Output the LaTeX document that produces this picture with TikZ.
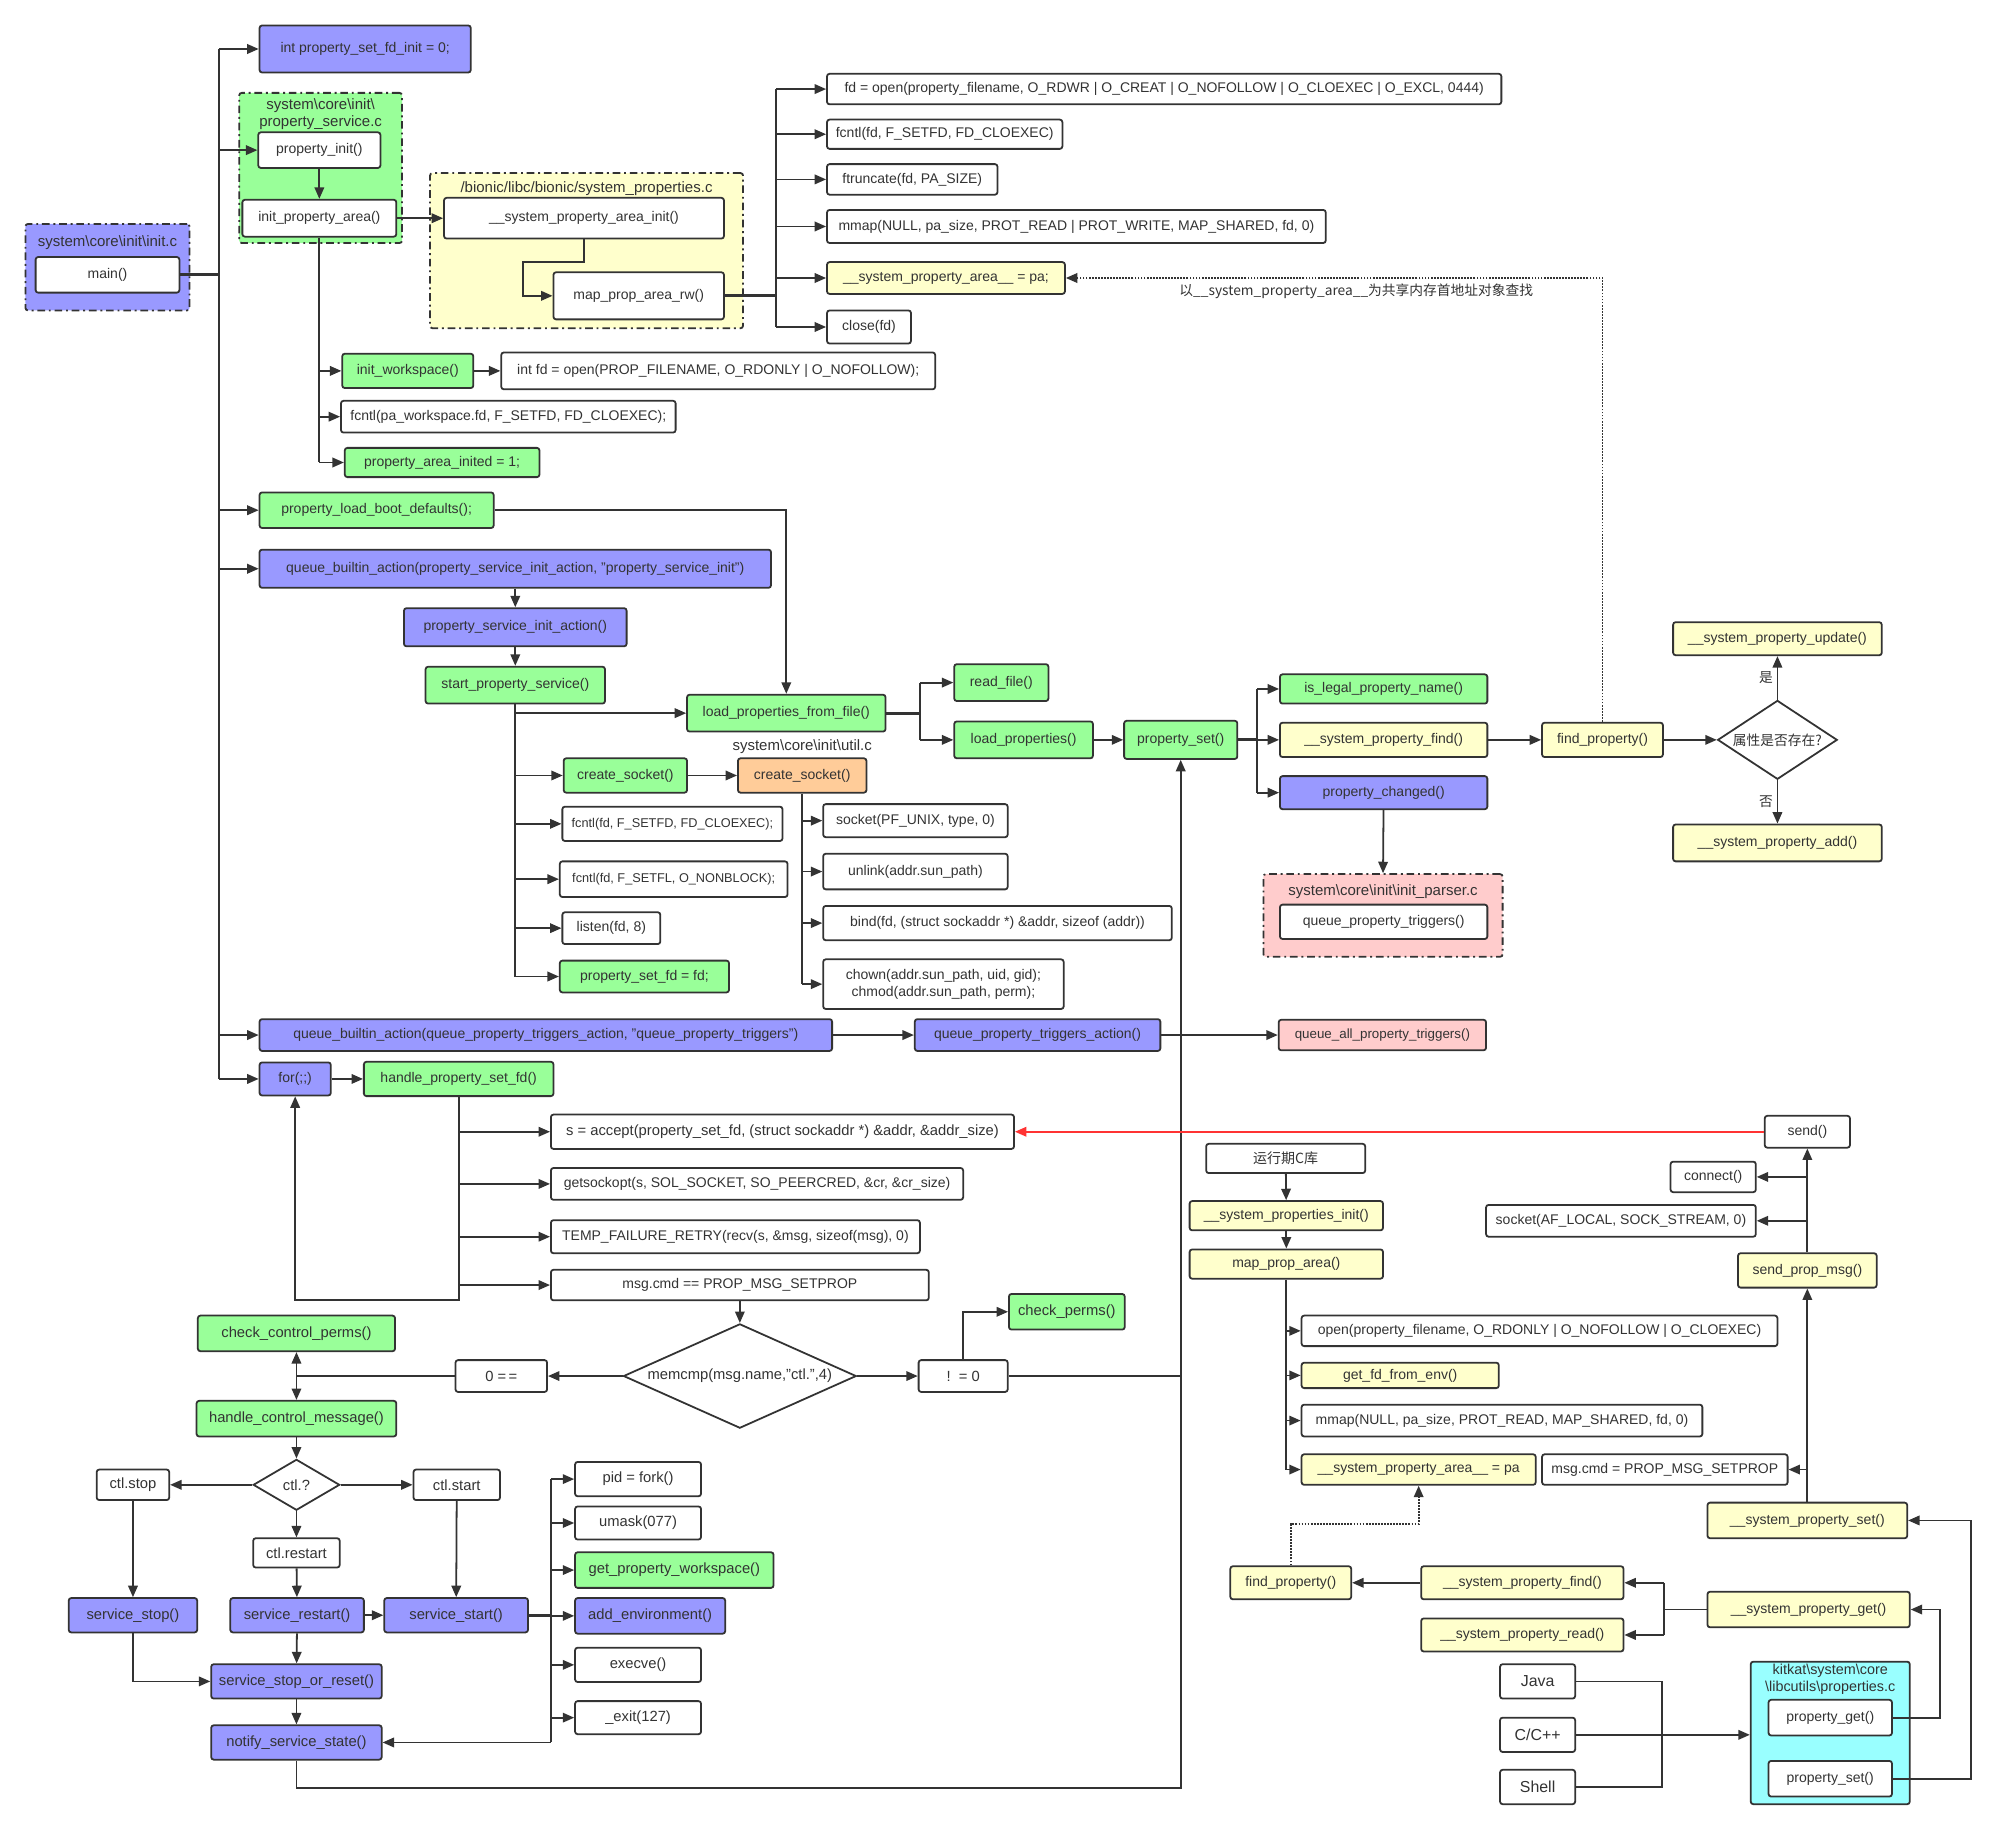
\documentclass[tikz,border=0pt]{standalone}
\usepackage{fontspec}
\setmainfont{Liberation Sans}
\newfontfamily\cjk{Noto Sans CJK SC}
\usetikzlibrary{arrows.meta,shapes.geometric}
\definecolor{crta}{HTML}{333333}
\definecolor{modra}{HTML}{9999FF}
\definecolor{zelena}{HTML}{99FF99}
\definecolor{rumena}{HTML}{FFFFCC}
\definecolor{oranzna}{HTML}{FFCC99}
\definecolor{rozna}{HTML}{FFCCCC}
\definecolor{cian}{HTML}{99FFFF}
\definecolor{rdeca}{HTML}{FF3333}
\tikzset{
	shema/.style={x=1pt, y=-1pt, color=crta, line width=1.4pt,
	              font=\fontsize{11}{13}\selectfont, >={Triangle[length=9pt,width=7.5pt]}},
	klic/.style={draw, rounded corners=2pt, fill=white, align=center, inner sep=2pt, minimum height=26pt},
	modri/.style={klic, fill=modra},
	zeleni/.style={klic, fill=zelena},
	rumeni/.style={klic, fill=rumena},
	oranzni/.style={klic, fill=oranzna},
	rozni/.style={klic, fill=rozna},
	veliki/.style={font=\fontsize{11.6}{14}\selectfont},
	drobni/.style={font=\fontsize{10}{12}\selectfont},
	odlocitev/.style={draw, diamond, fill=white, inner sep=0pt, align=center},
	skupina/.style={draw, dash pattern=on 6pt off 3pt on 1.5pt off 3pt, rounded corners=2pt,
	                line width=1.4pt, inner sep=0pt},
	naslov/.style={inner sep=1pt, align=center, font=\fontsize{11.8}{13}\selectfont},
	tok/.style={->},
	debelo/.style={line width=2.4pt},
	pik/.style={->, densely dotted},
	opomba/.style={font=\cjk\fontsize{10.8}{12}\selectfont, inner sep=1pt},
}

\begin{document}
\begin{tikzpicture}[shema]
\useasboundingbox (0,0) rectangle (1568,1438);

% skupine (ozadje)
\node[skupina, fill=zelena, minimum width=128pt, minimum height=118pt] (grupa1) at (252,132) {};
\node[skupina, fill=modra, minimum width=129pt, minimum height=68pt] (grupa2) at (84.5,210) {};
\node[skupina, fill=rumena, minimum width=246pt, minimum height=122pt] (grupa3) at (461,197) {};
\node[skupina, fill=rozna, minimum width=188pt, minimum height=65pt] (grupa4) at (1087,719.5) {};
\node[skupina, solid, fill=cian, minimum width=125pt, minimum height=112pt] (grupa5) at (1438.5,1362) {};

\node[naslov] at (252,89.5) {system\textbackslash core\textbackslash init\textbackslash\\property\_service.c};
\node[naslov] at (84.5,191) {system\textbackslash core\textbackslash init\textbackslash init.c};
\node[naslov] at (461,148) {/bionic/libc/bionic/system\_properties.c};
\node[naslov] at (1087,701) {system\textbackslash core\textbackslash init\textbackslash init\_parser.c};
\node[naslov, font=\fontsize{11.3}{13}\selectfont] at (1438.5,1320)
    {kitkat\textbackslash system\textbackslash core\\\textbackslash libcutils\textbackslash properties.c};

% init
\node[modri, minimum width=166pt, minimum height=37pt] (initfd) at (287,38.5)
    {int property\_set\_fd\_init = 0;};
\node[klic, minimum width=96pt, minimum height=28pt] (propinit) at (251,118)
    {property\_init()};
\node[klic, minimum width=121pt, minimum height=29pt] (initarea) at (251,171.5)
    {init\_property\_area()};
\node[klic, minimum width=113pt, minimum height=28pt] (mainfn) at (84.5,216)
    {main()};
\node[klic, minimum width=220pt, minimum height=32pt] (areainit) at (459,171.5)
    {\_\_system\_property\_area\_init()};
\node[klic, minimum width=134pt, minimum height=37pt] (maprw) at (502,232.5)
    {map\_prop\_area\_rw()};

\node[klic, minimum width=530pt, minimum height=24pt] (fdopen) at (915,70)
    {fd = open(property\_filename, O\_RDWR | O\_CREAT | O\_NOFOLLOW | O\_CLOEXEC | O\_EXCL, 0444)};
\node[klic, minimum width=185pt, minimum height=23pt] (fcntlfd) at (742.5,105.5)
    {fcntl(fd, F\_SETFD, FD\_CLOEXEC)};
\node[klic, minimum width=134pt, minimum height=24pt] (ftrunc) at (717,141)
    {ftruncate(fd, PA\_SIZE)};
\node[klic, minimum width=392pt] (mmap1) at (846,178)
    {mmap(NULL, pa\_size, PROT\_READ | PROT\_WRITE, MAP\_SHARED, fd, 0)};
\node[rumeni, minimum width=187pt, minimum height=25pt] (spa1) at (743.5,218.5)
    {\_\_system\_property\_area\_\_ = pa;};
\node[klic, minimum width=66pt] (closefd) at (683,257)
    {close(fd)};

\node[zeleni, minimum width=103pt, minimum height=27pt] (workspace) at (320.5,291.5)
    {init\_workspace()};
\node[klic, minimum width=341pt, minimum height=29pt] (wsopen) at (564.5,291.5)
    {int fd = open(PROP\_FILENAME, O\_RDONLY | O\_NOFOLLOW);};
\node[klic, minimum width=263pt, minimum height=25pt] (wsfcntl) at (399.5,327.5)
    {fcntl(pa\_workspace.fd, F\_SETFD, FD\_CLOEXEC);};
\node[zeleni, minimum width=153pt, minimum height=23pt] (inited) at (347.5,363.5)
    {property\_area\_inited = 1;};

% property service
\node[zeleni, minimum width=184pt, minimum height=28pt] (bootdef) at (296,401)
    {property\_load\_boot\_defaults();};
\node[modri, minimum width=402pt, minimum height=30pt] (qba1) at (405,447)
    {queue\_builtin\_action(property\_service\_init\_action, "property\_service\_init")};
\node[modri, minimum width=175pt, minimum height=30pt] (psia) at (405,493)
    {property\_service\_init\_action()};
\node[zeleni, minimum width=141pt, minimum height=29pt] (sps) at (405,538.5)
    {start\_property\_service()};
\node[zeleni, minimum width=156pt, minimum height=29pt] (lpff) at (618,560.5)
    {load\_properties\_from\_file()};
\node[zeleni, minimum width=74pt, minimum height=29pt] (readfile) at (787,536.5)
    {read\_file()};
\node[zeleni, minimum width=109pt, minimum height=29pt] (loadprops) at (804.5,581.5)
    {load\_properties()};
\node[zeleni, minimum width=97pt, minimum height=27pt] (cs1) at (491.5,609.5)
    {create\_socket()};
\node[oranzni, minimum width=101pt, minimum height=27pt] (cs2) at (630.5,609.5)
    {create\_socket()};
\node[naslov] (utilc) at (630.5,587) {system\textbackslash core\textbackslash init\textbackslash util.c};
\node[klic, drobni, minimum width=173pt, minimum height=27pt] (fcntl1) at (528.5,647.5)
    {fcntl(fd, F\_SETFD, FD\_CLOEXEC);};
\node[klic, drobni, minimum width=179pt, minimum height=28pt] (fcntl2) at (529.5,691)
    {fcntl(fd, F\_SETFL, O\_NONBLOCK);};
\node[klic, minimum width=77pt, minimum height=25pt] (listen) at (480.5,729.5)
    {listen(fd, 8)};
\node[zeleni, minimum width=133pt, minimum height=25pt] (setfd) at (506.5,767.5)
    {property\_set\_fd = fd;};
\node[klic, minimum width=145pt] (sock) at (719.5,645)
    {socket(PF\_UNIX, type, 0)};
\node[klic, minimum width=145pt, minimum height=28pt] (unlink) at (719.5,685)
    {unlink(addr.sun\_path)};
\node[klic, minimum width=274pt, minimum height=27pt] (bind) at (784,725.5)
    {bind(fd, (struct sockaddr *) \&addr, sizeof (addr))};
\node[klic, minimum width=189pt, minimum height=39pt] (chmod) at (741.5,773.5)
    {chown(addr.sun\_path, uid, gid);\\chmod(addr.sun\_path, perm);};

% property_set
\node[zeleni, minimum width=89pt, minimum height=30pt] (propset) at (928,581.5)
    {property\_set()};
\node[zeleni, minimum width=163pt, minimum height=23pt] (legal) at (1087.5,541.5)
    {is\_legal\_property\_name()};
\node[rumeni, minimum width=163pt, minimum height=27pt] (spfind1) at (1087.5,581.5)
    {\_\_system\_property\_find()};
\node[modri, minimum width=163pt] (changed) at (1087.5,623)
    {property\_changed()};
\node[rumeni, minimum width=95pt, minimum height=27pt] (findprop) at (1259.5,581.5)
    {find\_property()};
\node[odlocitev, aspect=1.5, minimum width=94pt, minimum height=62pt] (obstaja) at (1397,581.5)
    {\cjk\fontsize{10.8}{12}\selectfont 属性是否存在?};
\node[rumeni, minimum width=164pt] (update) at (1397,502)
    {\_\_system\_property\_update()};
\node[rumeni, minimum width=164pt, minimum height=29pt] (addp) at (1397,662.5)
    {\_\_system\_property\_add()};
\node[klic, minimum width=163pt, minimum height=27pt] (triggers) at (1087.5,724.5)
    {queue\_property\_triggers()};

\node[modri, minimum width=450pt, minimum height=25pt] (qba2) at (429,813.5)
    {queue\_builtin\_action(queue\_property\_triggers\_action, "queue\_property\_triggers")};
\node[modri, minimum width=193pt, minimum height=25pt] (qpta) at (815.5,813.5)
    {queue\_property\_triggers\_action()};
\node[rozni, minimum width=163pt, minimum height=24pt, font=\fontsize{10.5}{12}\selectfont] (qapt) at (1086.5,813.5)
    {queue\_all\_property\_triggers()};

% for(;;)
\node[modri, minimum width=56pt] (zanka) at (232,848)
    {for(;;)};
\node[zeleni, minimum width=149pt, minimum height=27pt] (hpsf) at (360.5,848)
    {handle\_property\_set\_fd()};
\node[klic, veliki, minimum width=364pt, minimum height=27pt] (accept) at (615,889.5)
    {s = accept(property\_set\_fd, (struct sockaddr *) \&addr, \&addr\_size)};
\node[klic, minimum width=324pt, minimum height=25pt] (getsock) at (595,930.5)
    {getsockopt(s, SOL\_SOCKET, SO\_PEERCRED, \&cr, \&cr\_size)};
\node[klic, minimum width=290pt] (recv) at (578,972)
    {TEMP\_FAILURE\_RETRY(recv(s, \&msg, sizeof(msg), 0)};
\node[klic, minimum width=297pt, minimum height=24pt] (setprop) at (581.5,1010)
    {msg.cmd == PROP\_MSG\_SETPROP};
\node[odlocitev, veliki, aspect=2.2, minimum width=183pt, minimum height=82pt] (memcmp) at (581.5,1081.5)
    {memcmp(msg.name,"ctl.",4)};
\node[klic, veliki, minimum width=72pt, minimum height=25pt] (nic) at (394,1081.5)
    {0 =\,=};
\node[klic, veliki, minimum width=70pt, minimum height=25pt] (nenic) at (757,1081.5)
    {!\ \ = 0};
\node[zeleni, veliki, minimum width=91pt, minimum height=28pt] (checkperms) at (838.5,1031)
    {check\_perms()};
\node[zeleni, veliki, minimum width=155pt, minimum height=28pt] (ccperms) at (233,1048)
    {check\_control\_perms()};
\node[zeleni, veliki, minimum width=157pt, minimum height=28pt] (hcm) at (233,1115)
    {handle\_control\_message()};
\node[odlocitev, veliki, aspect=1.7, minimum width=68pt, minimum height=40pt] (ctl) at (233,1167)
    {ctl.?};
\node[klic, veliki, minimum width=57pt, minimum height=24pt] (ctlstop) at (104.5,1167)
    {ctl.stop};
\node[klic, veliki, minimum width=68pt, minimum height=24pt] (ctlstart) at (359,1167)
    {ctl.start};
\node[klic, veliki, minimum width=68pt, minimum height=23pt] (ctlrestart) at (233,1220.5)
    {ctl.restart};
\node[modri, veliki, minimum width=101pt, minimum height=27pt] (sstop) at (104.5,1269.5)
    {service\_stop()};
\node[modri, veliki, minimum width=105pt, minimum height=27pt] (srestart) at (233.5,1269.5)
    {service\_restart()};
\node[modri, veliki, minimum width=113pt, minimum height=27pt] (sstart) at (358.5,1269.5)
    {service\_start()};
\node[modri, veliki, minimum width=134pt, minimum height=27pt] (ssor) at (233,1321.5)
    {service\_stop\_or\_reset()};
\node[modri, veliki, minimum width=134pt, minimum height=27pt] (notify) at (233,1369.5)
    {notify\_service\_state()};
\node[klic, veliki, minimum width=99pt, minimum height=27pt] (fork) at (501.5,1162.5)
    {pid = fork()};
\node[klic, veliki, minimum width=99pt] (umask) at (501.5,1197)
    {umask(077)};
\node[zeleni, veliki, minimum width=156pt, minimum height=28pt] (getws) at (530,1234)
    {get\_property\_workspace()};
\node[modri, veliki, minimum width=118pt, minimum height=28pt] (addenv) at (511,1270)
    {add\_environment()};
\node[klic, veliki, minimum width=99pt, minimum height=27pt] (execve) at (501.5,1308.5)
    {execve()};
\node[klic, veliki, minimum width=99pt] (exitp) at (501.5,1350)
    {\_exit(127)};

% libc / libcutils
\node[klic, minimum width=125pt, minimum height=23pt] (clib) at (1010.5,910.5)
    {\cjk 运行期C库};
\node[rumeni, minimum width=152pt, minimum height=23pt] (spinit) at (1011,955.5)
    {\_\_system\_properties\_init()};
\node[rumeni, minimum width=152pt, minimum height=23pt] (mparea) at (1011,993.5)
    {map\_prop\_area()};
\node[klic, minimum width=374pt, minimum height=24pt] (ropen) at (1210,1046)
    {open(property\_filename, O\_RDONLY | O\_NOFOLLOW | O\_CLOEXEC)};
\node[rumeni, minimum width=155pt, minimum height=20pt] (fdenv) at (1100.5,1081)
    {get\_fd\_from\_env()};
\node[klic, minimum width=315pt, minimum height=25pt] (mmap2) at (1180.5,1116.5)
    {mmap(NULL, pa\_size, PROT\_READ, MAP\_SHARED, fd, 0)};
\node[rumeni, minimum width=184pt, minimum height=24pt] (spa2) at (1115,1155)
    {\_\_system\_property\_area\_\_ = pa};
\node[klic, minimum width=193pt, minimum height=24pt] (msgcmd) at (1308.5,1155)
    {msg.cmd = PROP\_MSG\_SETPROP};
\node[klic, minimum width=67pt, minimum height=25pt] (send) at (1420.5,889.5)
    {send()};
\node[klic, minimum width=67pt, minimum height=24pt] (connect) at (1346.5,925)
    {connect()};
\node[klic, minimum width=212pt, minimum height=25pt] (socket2) at (1274,959.5)
    {socket(AF\_LOCAL, SOCK\_STREAM, 0)};
\node[rumeni, minimum width=109pt, minimum height=27pt] (spmsg) at (1420.5,998.5)
    {send\_prop\_msg()};
\node[rumeni, minimum width=157pt, minimum height=28pt] (spset) at (1420.5,1195)
    {\_\_system\_property\_set()};
\node[rumeni, minimum width=95pt] (findprop2) at (1014.5,1244)
    {find\_property()};
\node[rumeni, minimum width=159pt] (spfind2) at (1196.5,1244)
    {\_\_system\_property\_find()};
\node[rumeni, minimum width=159pt] (spread) at (1196.5,1285)
    {\_\_system\_property\_read()};
\node[rumeni, minimum width=159pt, minimum height=28pt] (spget) at (1421.5,1265)
    {\_\_system\_property\_get()};
\node[klic, font=\fontsize{12.5}{14}\selectfont, minimum width=59pt, minimum height=27pt] (java) at (1208.5,1321.5)
    {Java};
\node[klic, font=\fontsize{12.5}{14}\selectfont, minimum width=59pt, minimum height=27pt] (cpp) at (1208.5,1363.5)
    {C/C++};
\node[klic, font=\fontsize{12.5}{14}\selectfont, minimum width=59pt, minimum height=27pt] (shell) at (1208.5,1404.5)
    {Shell};
\node[klic, minimum width=97pt, minimum height=28pt] (propget) at (1438.5,1350)
    {property\_get()};
\node[klic, minimum width=97pt, minimum height=28pt] (propset2) at (1438.5,1398)
    {property\_set()};

% povezave
\coordinate (deblo) at (172,216);
\draw[debelo] (mainfn) -- (deblo);
\draw (deblo |- initfd) -- (deblo |- zanka);
\foreach \n in {initfd,propinit,bootdef,qba1,qba2,zanka}
    \draw[tok] (deblo |- \n) -- (\n);

\draw[tok] (propinit) -- (initarea);
\draw[tok] (initarea) -- (areainit);
\coordinate (zavoj) at (411,206);
\draw[tok] (areainit.south) |- (zavoj) |- (maprw);
\draw (initarea.south) -- (initarea.south |- inited);
\foreach \n in {workspace,wsfcntl,inited}
    \draw[tok] (initarea.south |- \n) -- (\n);
\draw[tok] (workspace) -- (wsopen);

\coordinate (deblo2) at (610,232.5);
\draw[debelo] (maprw) -- (deblo2);
\draw (deblo2 |- fdopen) -- (deblo2 |- closefd);
\foreach \n in {fdopen,fcntlfd,ftrunc,mmap1,spa1,closefd}
    \draw[tok] (deblo2 |- \n) -- (\n);

\draw[pik] (findprop.north) |- (spa1);
\node[opomba] at (1066,229) {以\_\_system\_property\_area\_\_为共享内存首地址对象查找};

\draw[tok] (bootdef) -| (lpff);
\draw[tok] (qba1) -- (psia);
\draw[tok] (psia) -- (sps);
\draw (sps.south) -- (sps.south |- setfd);
\foreach \n in {lpff,cs1,fcntl1,fcntl2,listen,setfd}
    \draw[tok] (sps.south |- \n) -- (\n);
\draw[tok] (cs1) -- (cs2);
\draw (cs2.south) -- (cs2.south |- chmod);
\foreach \n in {sock,unlink,bind,chmod}
    \draw[tok] (cs2.south |- \n) -- (\n);

\coordinate (deblo3) at (723,560.5);
\draw[debelo] (lpff) -- (deblo3);
\draw (deblo3 |- readfile) -- (deblo3 |- loadprops);
\draw[tok] (deblo3 |- readfile) -- (readfile);
\draw[tok] (deblo3 |- loadprops) -- (loadprops);
\draw[tok] (loadprops) -- (propset);

\coordinate (deblo4) at (988,581.5);
\draw[debelo] (propset) -- (deblo4);
\draw (deblo4 |- legal) -- (deblo4 |- changed);
\foreach \n in {legal,spfind1,changed}
    \draw[tok] (deblo4 |- \n) -- (\n);
\draw[tok] (spfind1) -- (findprop);
\draw[tok] (findprop) -- (obstaja);
\draw[tok] (obstaja) -- node[opomba, left=2pt] {是} (update);
\draw[tok] (obstaja) -- node[opomba, left=2pt] {否} (addp);
\draw[tok] (changed) -- (grupa4.north);

\draw[tok] (qba2) -- (qpta);
\draw[tok] (qpta) -- (qapt);

\draw[tok] (zanka) -- (hpsf);
\coordinate (dno) at (360.5,1022);
\draw[tok] (hpsf.south) -- (dno) -| (zanka);
\foreach \n in {accept,getsock,recv,setprop}
    \draw[tok] (hpsf.south |- \n) -- (\n);
\draw[tok] (setprop) -- (memcmp);
\draw[tok] (memcmp) -- (nic);
\draw[tok] (memcmp) -- (nenic);
\coordinate (razcep) at (233,1081.5);
\draw (nic) -- (razcep);
\draw[tok] (razcep) -- (ccperms);
\draw[tok] (razcep) -- (hcm);
\draw[tok] (nenic.north) |- (checkperms);
\draw (nenic) -- (nenic -| propset);

\draw[tok] (hcm) -- (ctl);
\draw[tok] (ctl) -- (ctlstop);
\draw[tok] (ctl) -- (ctlstart);
\draw[tok] (ctl) -- (ctlrestart);
\draw[tok] (ctlstop) -- (sstop);
\draw[tok] (ctlrestart) -- (srestart);
\draw[tok] (ctlstart) -- (sstart);
\draw[tok] (srestart) -- (sstart);
\draw[tok] (srestart) -- (ssor);
\draw[tok] (sstop) |- (ssor);
\draw[tok] (ssor) -- (notify);

\coordinate (deblo5) at (433,1269.5);
\draw[debelo] (sstart) -- (deblo5);
\draw (deblo5 |- fork) -- (deblo5 |- notify);
\foreach \n in {fork,umask,getws,addenv,execve,exitp,notify}
    \draw[tok] (deblo5 |- \n) -- (\n);
\coordinate (povratek) at (928,1405);
\draw[tok] (notify.south) |- (povratek) -- (propset.south);

\draw[tok] (clib) -- (spinit);
\draw[tok] (spinit) -- (mparea);
\draw (mparea.south) -- (mparea.south |- spa2);
\foreach \n in {ropen,fdenv,mmap2,spa2}
    \draw[tok] (mparea.south |- \n) -- (\n);

\draw[tok, rdeca] (send) -- (accept);
\draw[tok] (spmsg) -- (send);
\draw[tok] (spmsg.north |- connect) -- (connect);
\draw[tok] (spmsg.north |- socket2) -- (socket2);
\draw[tok] (spset) -- (spmsg);
\draw[tok] (spset.north |- msgcmd) -- (msgcmd);

\coordinate (pikzavoj) at (1115,1198);
\draw[pik] (findprop2.north) |- (pikzavoj) -- (spa2.south);
\draw[tok] (spfind2) -- (findprop2);
\coordinate (deblo6) at (1308,1265);
\draw (spget) -- (deblo6);
\draw (deblo6 |- spfind2) -- (deblo6 |- spread);
\draw[tok] (deblo6 |- spfind2) -- (spfind2);
\draw[tok] (deblo6 |- spread) -- (spread);

\coordinate (deblo7) at (1306,1363.5);
\draw (java) -| (deblo7);
\draw (shell) -| (deblo7);
\draw[tok] (cpp) -- (cpp -| grupa5.west);
\coordinate (desno1) at (1525,1350);
\coordinate (desno2) at (1549,1398);
\draw[tok] (propget) -- (desno1) |- (spget);
\draw[tok] (propset2) -- (desno2) |- (spset);

\end{tikzpicture}
\end{document}
